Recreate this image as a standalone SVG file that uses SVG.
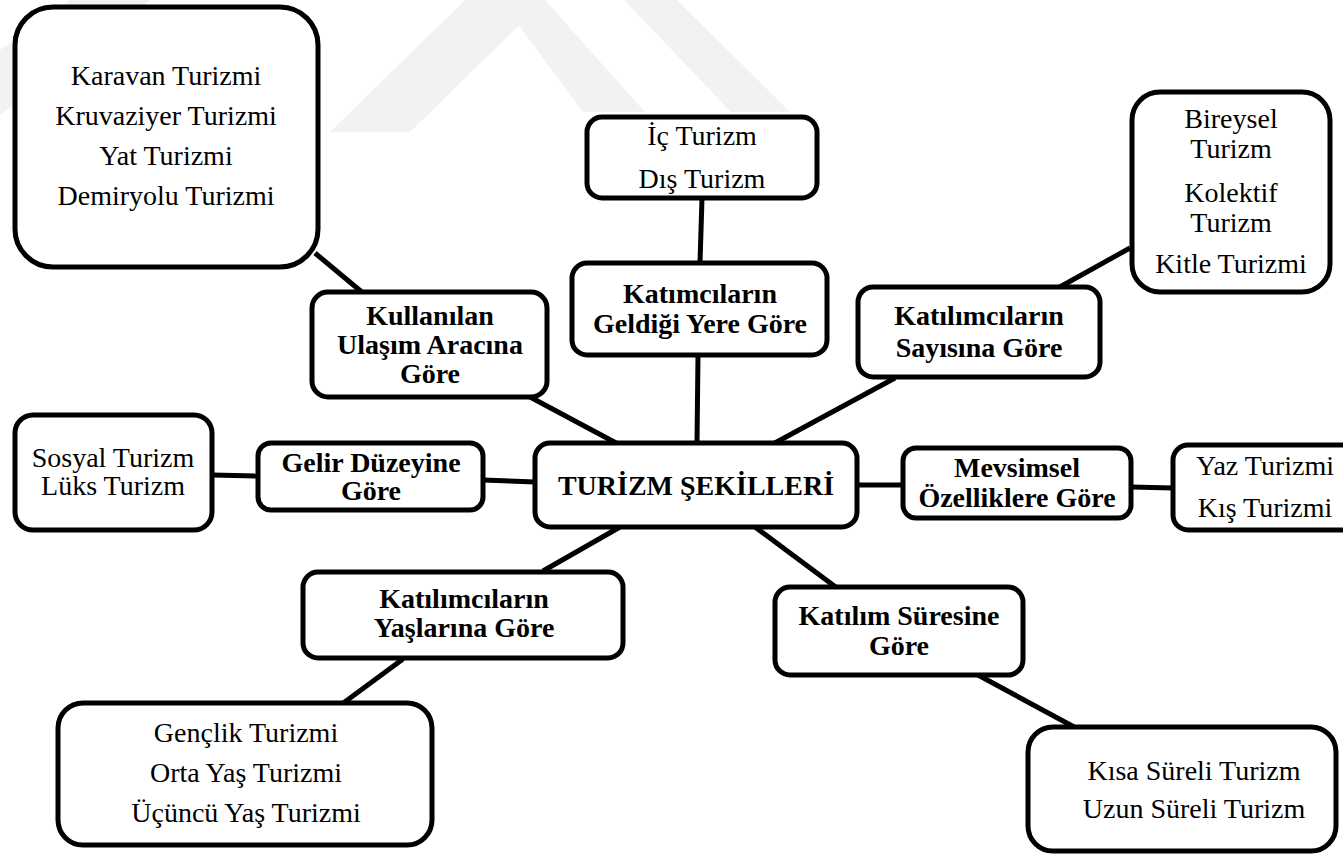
<svg xmlns="http://www.w3.org/2000/svg" width="1343" height="854" viewBox="0 0 1343 854">
<style>
.box{fill:#fff;stroke:#000;stroke-width:5}
.t{font-size:28px;fill:#000;text-anchor:middle}
.b{font-weight:bold}
.wm{fill:#f2f2f2}
#connectors line{stroke:#000;stroke-width:5}
</style>
<rect width="1343" height="854" fill="#fff"/>
<g id="watermark">
<polygon class="wm" points="0,115 0,50 70,0 150,0"/>
<polygon class="wm" points="330,132 410,132 545,0 465,0"/>
<polygon class="wm" points="500,0 545,0 645,112 583,112"/>
<polygon class="wm" points="624,0 677,0 790,112 731,112"/>
</g>
<g id="connectors">
<line x1="315" y1="253" x2="363" y2="293"/>
<line x1="530" y1="397" x2="618" y2="444"/>
<line x1="702" y1="198" x2="700" y2="263"/>
<line x1="698" y1="355" x2="697" y2="443"/>
<line x1="1130" y1="248" x2="1058" y2="288"/>
<line x1="895" y1="378" x2="773" y2="444"/>
<line x1="212" y1="475" x2="258" y2="476"/>
<line x1="483" y1="480" x2="535" y2="482"/>
<line x1="857" y1="485" x2="903" y2="485"/>
<line x1="1131" y1="487" x2="1173" y2="488"/>
<line x1="620" y1="527" x2="543" y2="571"/>
<line x1="403" y1="659" x2="342" y2="704"/>
<line x1="755" y1="527" x2="837" y2="588"/>
<line x1="978" y1="675" x2="1076" y2="728"/>
</g>
<g font-family="'Liberation Serif', Tinos, 'Times New Roman', Times, 'DejaVu Serif', serif">
<g id="node-ulasim-list">
<rect class="box" x="15" y="7" width="303" height="260" rx="38"/>
<text class="t" x="166" y="85">Karavan Turizmi</text>
<text class="t" x="166" y="125">Kruvaziyer Turizmi</text>
<text class="t" x="166" y="165">Yat Turizmi</text>
<text class="t" x="166" y="205">Demiryolu Turizmi</text>
</g>
<g id="node-ic-dis">
<rect class="box" x="587" y="117" width="230" height="81" rx="15"/>
<text class="t" x="702" y="145">İç Turizm</text>
<text class="t" x="702" y="188">Dış Turizm</text>
</g>
<g id="node-geldigi">
<rect class="box" x="572" y="263" width="255" height="92" rx="15"/>
<text class="t b" x="700" y="303" font-size="29">Katımcıların</text>
<text class="t b" x="700" y="333" font-size="29">Geldiği Yere Göre</text>
</g>
<g id="node-bireysel">
<rect class="box" x="1132" y="92" width="198" height="200" rx="28"/>
<text class="t" x="1231" y="128">Bireysel</text>
<text class="t" x="1231" y="158">Turizm</text>
<text class="t" x="1231" y="202">Kolektif</text>
<text class="t" x="1231" y="232">Turizm</text>
<text class="t" x="1231" y="273">Kitle Turizmi</text>
</g>
<g id="node-sayisina">
<rect class="box" x="858" y="287" width="242" height="90" rx="15"/>
<text class="t b" x="979" y="325">Katılımcıların</text>
<text class="t b" x="979" y="357">Sayısına Göre</text>
</g>
<g id="node-ulasim">
<rect class="box" x="312" y="292" width="235" height="105" rx="16"/>
<text class="t b" x="430" y="325">Kullanılan</text>
<text class="t b" x="430" y="354">Ulaşım Aracına</text>
<text class="t b" x="430" y="383">Göre</text>
</g>
<g id="node-sosyal">
<rect class="box" x="15" y="415" width="197" height="115" rx="18"/>
<text class="t" x="113" y="467">Sosyal Turizm</text>
<text class="t" x="113" y="495">Lüks Turizm</text>
</g>
<g id="node-gelir">
<rect class="box" x="258" y="443" width="225" height="67" rx="13"/>
<text class="t b" x="371" y="472">Gelir Düzeyine</text>
<text class="t b" x="371" y="500">Göre</text>
</g>
<g id="node-center">
<rect class="box" x="535" y="443" width="322" height="84" rx="15"/>
<text class="t b" x="696" y="495">TURİZM ŞEKİLLERİ</text>
</g>
<g id="node-mevsimsel">
<rect class="box" x="903" y="448" width="228" height="70" rx="13"/>
<text class="t b" x="1017" y="477" font-size="29">Mevsimsel</text>
<text class="t b" x="1017" y="507" font-size="29">Özelliklere Göre</text>
</g>
<g id="node-yaz">
<rect class="box" x="1173" y="445" width="190" height="85" rx="15"/>
<text class="t" x="1265" y="475">Yaz Turizmi</text>
<text class="t" x="1265" y="517">Kış Turizmi</text>
</g>
<g id="node-yaslarina">
<rect class="box" x="303" y="572" width="320" height="86" rx="15"/>
<text class="t b" x="464" y="608">Katılımcıların</text>
<text class="t b" x="464" y="637">Yaşlarına Göre</text>
</g>
<g id="node-suresine">
<rect class="box" x="775" y="587" width="248" height="88" rx="15"/>
<text class="t b" x="899" y="625">Katılım Süresine</text>
<text class="t b" x="899" y="655">Göre</text>
</g>
<g id="node-genclik">
<rect class="box" x="58" y="703" width="374" height="142" rx="25"/>
<text class="t" x="246" y="742">Gençlik Turizmi</text>
<text class="t" x="246" y="782">Orta Yaş Turizmi</text>
<text class="t" x="246" y="822">Üçüncü Yaş Turizmi</text>
</g>
<g id="node-kisa">
<rect class="box" x="1028" y="727" width="308" height="124" rx="25"/>
<text class="t" x="1194" y="780">Kısa Süreli Turizm</text>
<text class="t" x="1194" y="818">Uzun Süreli Turizm</text>
</g>
</g>
</svg>
